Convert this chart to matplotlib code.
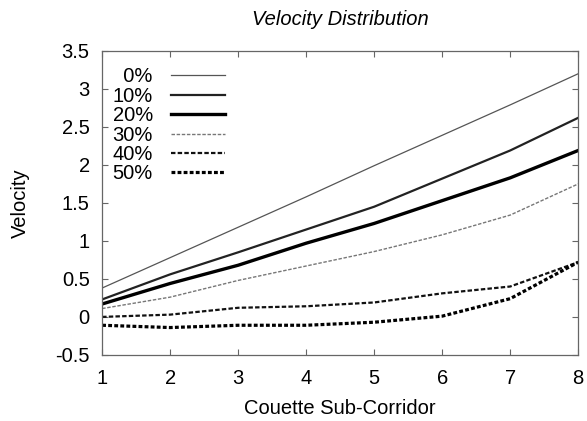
import matplotlib
matplotlib.use("Agg")
import matplotlib.pyplot as plt

plt.rcParams['font.family'] = ['Liberation Sans', 'DejaVu Sans']

# corridor index and velocity per blockage level
x = [1, 2, 3, 4, 5, 6, 7, 8]
labels = ['0%', '10%', '20%', '30%', '40%', '50%']
v0 = [0.38, 0.78, 1.18, 1.58, 1.99, 2.39, 2.79, 3.20]
v10 = [0.23, 0.56, 0.85, 1.15, 1.45, 1.82, 2.19, 2.62]
v20 = [0.17, 0.44, 0.68, 0.97, 1.23, 1.53, 1.83, 2.19]
v30 = [0.11, 0.26, 0.48, 0.67, 0.86, 1.08, 1.34, 1.75]
v40 = [0.0, 0.03, 0.12, 0.14, 0.19, 0.31, 0.40, 0.72]
v50 = [-0.11, -0.14, -0.11, -0.11, -0.07, 0.01, 0.24, 0.72]

styles = [
    dict(color='#555555', lw=0.9, ls='-'),
    dict(color='#222222', lw=1.6, ls='-'),
    dict(color='#000000', lw=2.4, ls='-'),
    dict(color='#777777', lw=1.0, ls=(0, (2.5, 1.2))),
    dict(color='#111111', lw=1.6, ls=(0, (2.0, 1.0))),
    dict(color='#000000', lw=2.3, ls=(0, (1.2, 0.7))),
]

fs = 14.5

fig = plt.figure(figsize=(5.87, 4.21), dpi=100)
ax = fig.add_axes([0.174, 0.157, 0.811, 0.722])

for vals, lab, st in zip([v0, v10, v20, v30, v40, v50], labels, styles):
    ax.plot(x, vals, label='\u2007' * (3 - len(lab)) + lab, **st)

ax.set_xlim(1, 8)
ax.set_ylim(-0.5, 3.5)
ax.set_xticks(x)
ax.set_yticks([-0.5, 0, 0.5, 1, 1.5, 2, 2.5, 3, 3.5])
ax.set_yticklabels(['-0.5', '0', '0.5', '1', '1.5', '2', '2.5', '3', '3.5'])
ax.tick_params(direction='in', length=4, width=0.8, color='#666666',
               top=True, right=True, labelsize=fs)
ax.tick_params(axis='x', pad=10)
ax.tick_params(axis='y', pad=9)
for s in ax.spines.values():
    s.set_color('#666666')
    s.set_linewidth(0.9)

ax.set_title('Velocity Distribution', fontsize=fs, style='italic', pad=19)
ax.set_xlabel('Couette Sub-Corridor', fontsize=fs, labelpad=8)
ax.set_ylabel('Velocity', fontsize=fs, labelpad=18)

ax.legend(loc='upper left', bbox_to_anchor=(-0.008, 0.992), frameon=False,
          markerfirst=False, fontsize=fs, handlelength=2.7,
          handletextpad=0.9, labelspacing=0.02, borderaxespad=0.3)

fig.savefig('out.png', dpi=100)
